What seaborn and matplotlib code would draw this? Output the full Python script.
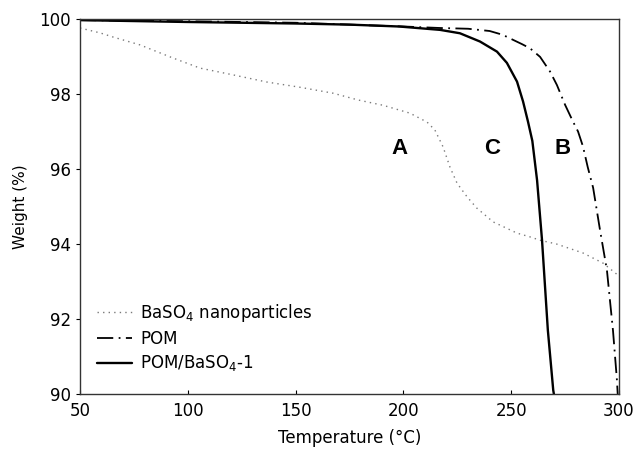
import matplotlib
matplotlib.use("Agg")
import matplotlib.pyplot as plt
import seaborn as sns
import pandas as pd

sns.set_style("ticks")
plt.rcParams['font.family'] = ['DejaVu Sans']
plt.rcParams['text.color'] = 'black'
plt.rcParams['axes.labelcolor'] = 'black'
plt.rcParams['xtick.color'] = 'black'
plt.rcParams['ytick.color'] = 'black'

# BaSO4 nanoparticles (A)
t_a = [50, 59.3, 65.3, 77.8, 83.9, 93.1, 105.7, 121, 136.6, 152, 167.5, 179, 190.5, 203,
       211, 214.6, 218.4, 221.6, 224.9, 229.5, 234, 241.6, 252.7, 258.7, 263.4, 271,
       283.3, 292.6, 299.5]
w_a = [99.76, 99.63, 99.52, 99.31, 99.17, 98.96, 98.69, 98.51, 98.32, 98.18, 98.02, 97.84,
       97.7, 97.49, 97.25, 97.04, 96.59, 96.05, 95.62, 95.26, 94.96, 94.59, 94.29, 94.19,
       94.1, 94.0, 93.76, 93.49, 93.17]

# POM (B)
t_b = [50, 100, 150, 200, 217, 230, 240, 246, 251, 255, 258.7, 263.4, 268, 271.2, 275,
       278.7, 281, 283.3, 285.5, 288, 291.2, 294.4, 297.2, 299, 299.4]
w_b = [99.97, 99.94, 99.9, 99.8, 99.76, 99.74, 99.68, 99.58, 99.44, 99.33, 99.22, 98.99,
       98.6, 98.24, 97.71, 97.26, 97.0, 96.6, 96.05, 95.5, 94.37, 93.3, 91.7, 90.4, 90.0]

# POM/BaSO4-1 (C)
t_c = [50, 100, 150, 175, 198, 217, 226.2, 235.5, 243.4, 248, 252.7, 255.5, 257.8,
       259.8, 262, 264.3, 267, 269.5, 269.8]
w_c = [99.97, 99.92, 99.88, 99.85, 99.8, 99.71, 99.62, 99.4, 99.13, 98.83, 98.33, 97.8,
       97.26, 96.75, 95.7, 94.1, 91.7, 90.1, 90.0]

labels = ["BaSO$_4$ nanoparticles", "POM", "POM/BaSO$_4$-1"]
x_ticks = [50, 100, 150, 200, 250, 300]
y_ticks = [90, 92, 94, 96, 98, 100]

fig = plt.figure(figsize=(6.36, 4.54), dpi=100)
ax = fig.add_axes([80/636, 60/454, 539/636, 375/454])

da = pd.DataFrame({"T": t_a, "W": w_a})
db = pd.DataFrame({"T": t_b, "W": w_b})
dc = pd.DataFrame({"T": t_c, "W": w_c})

sns.lineplot(data=da, x="T", y="W", ax=ax, color="#7a7a7a", lw=1.0,
             linestyle=(0, (1, 3)), label=labels[0], sort=False)
sns.lineplot(data=db, x="T", y="W", ax=ax, color="black", lw=1.3,
             linestyle=(0, (9, 3, 1, 3)), label=labels[1], sort=False)
sns.lineplot(data=dc, x="T", y="W", ax=ax, color="black", lw=1.7,
             linestyle="-", label=labels[2], sort=False)

ax.set_xlim(50, 300)
ax.set_ylim(90, 100)
ax.set_xticks(x_ticks)
ax.set_yticks(y_ticks)
ax.tick_params(axis="x", direction="in", length=3, labelsize=12, pad=6)
ax.tick_params(axis="y", direction="out", length=3, labelsize=12)
for s in ax.spines.values():
    s.set_visible(True)
    s.set_linewidth(1.0)
    s.set_color("#333333")

ax.set_xlabel("Temperature (°C)", fontsize=12, labelpad=6)
ax.set_ylabel("Weight (%)", fontsize=11, labelpad=8)

for lab, tx in [("A", 198), ("C", 241), ("B", 273.6)]:
    ax.text(tx, 96.56, lab, fontsize=16, fontweight="bold", ha="center", va="center",
            family="Liberation Sans")

ax.legend(loc="lower left", bbox_to_anchor=(0.003, 0.015), frameon=False,
          fontsize=12, handlelength=2.1, handletextpad=0.5, labelspacing=0.35)

fig.savefig("out.png", dpi=100)
